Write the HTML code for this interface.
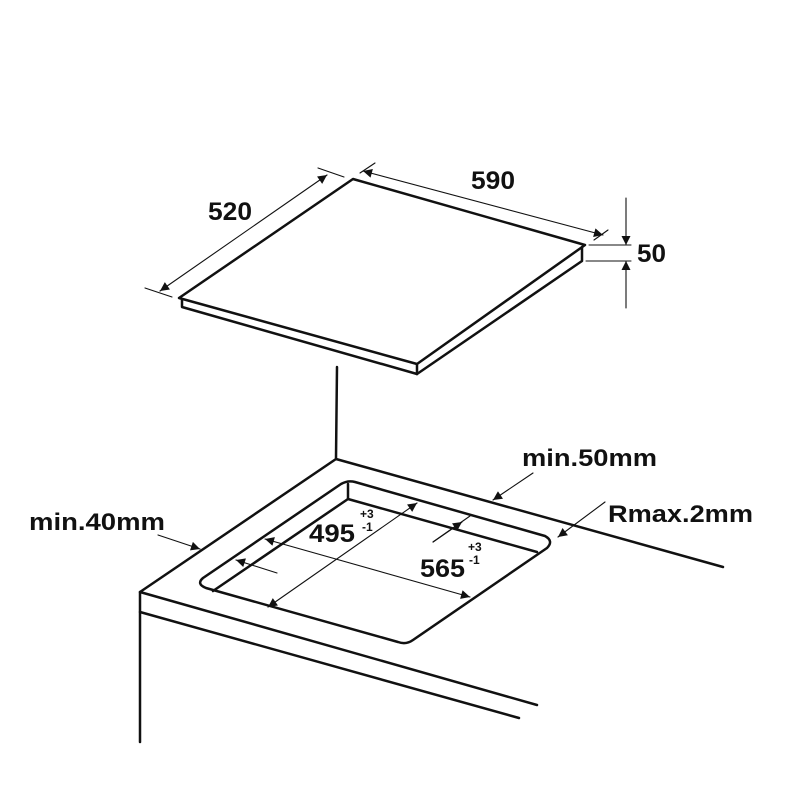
<!DOCTYPE html>
<html><head><meta charset="utf-8"><style>
html,body{margin:0;padding:0;background:#fff;}
svg{display:block;}
text{font-family:"Liberation Sans",sans-serif;font-weight:bold;fill:#111;}
</style></head><body>
<svg width="806" height="806" viewBox="0 0 806 806" xmlns="http://www.w3.org/2000/svg">
<defs>
<marker id="b" viewBox="0 0 10 10" refX="10" refY="5" markerWidth="17" markerHeight="9" markerUnits="userSpaceOnUse" orient="auto-start-reverse">
<path d="M0,0 L10,5 L0,10 z" fill="#111"/></marker>
</defs>
<g stroke="#111" fill="none" stroke-linejoin="round" stroke-linecap="round">
<g stroke-width="2.5">
<path d="M353,179 L585,245 L417,364 L179,298 Z"/>
<path d="M182,299 L182,307 L417,374 L417,364"/>
<path d="M417,374 L582,261 L582,247"/>
</g>
<g stroke-width="1.1">
<line x1="160" y1="291" x2="327" y2="175" marker-start="url(#b)" marker-end="url(#b)"/>
<line x1="145" y1="288" x2="172" y2="297"/>
<line x1="318" y1="168" x2="344" y2="177"/>
<line x1="363" y1="171" x2="603" y2="235" marker-start="url(#b)" marker-end="url(#b)"/>
<line x1="360" y1="173" x2="375" y2="163"/>
<line x1="594" y1="240" x2="608" y2="230"/>
<line x1="589" y1="245" x2="631" y2="245"/>
<line x1="586" y1="261" x2="631" y2="261"/>
<line x1="626" y1="198" x2="626" y2="245" marker-end="url(#b)"/>
<line x1="626" y1="308" x2="626" y2="261" marker-end="url(#b)"/>
</g>
<g stroke-width="2.5">
<line x1="337" y1="367" x2="336" y2="458"/>
<path d="M723,567 L336,459 L140,592 L537,705"/>
<line x1="140" y1="612" x2="519" y2="718"/>
<line x1="140" y1="592" x2="140" y2="742"/>
<path d="M355,482 L545,536 Q554,541 547,548 L413,640 Q406,645 398,642 L206,588 Q196,584 203,578 L341,484 Q348,480 355,482 Z"/>
<line x1="348" y1="484" x2="348" y2="499"/>
<line x1="348" y1="499" x2="213" y2="591"/>
<line x1="348" y1="499" x2="537" y2="552"/>
</g>
<g stroke-width="1.1">
<line x1="268" y1="607" x2="417" y2="503" marker-start="url(#b)" marker-end="url(#b)"/>
<line x1="265" y1="539" x2="470" y2="597" marker-start="url(#b)" marker-end="url(#b)"/>
<line x1="277" y1="573" x2="236" y2="560" marker-end="url(#b)"/>
<line x1="433" y1="542" x2="470" y2="516"/>
<line x1="433" y1="542" x2="462" y2="522" marker-end="url(#b)"/>
<line x1="533" y1="473" x2="493" y2="500" marker-end="url(#b)"/>
<line x1="605" y1="502" x2="558" y2="537" marker-end="url(#b)"/>
<line x1="158" y1="535" x2="200" y2="549" marker-end="url(#b)"/>
</g>
</g>
<text x="208" y="220" font-size="25" textLength="44" lengthAdjust="spacingAndGlyphs">520</text>
<text x="471" y="189" font-size="25" textLength="44" lengthAdjust="spacingAndGlyphs">590</text>
<text x="637" y="262" font-size="25" textLength="29" lengthAdjust="spacingAndGlyphs">50</text>
<text x="29" y="530" font-size="24" textLength="136" lengthAdjust="spacingAndGlyphs">min.40mm</text>
<text x="522" y="466" font-size="24" textLength="135" lengthAdjust="spacingAndGlyphs">min.50mm</text>
<text x="608" y="522" font-size="24" textLength="145" lengthAdjust="spacingAndGlyphs">Rmax.2mm</text>
<text x="309" y="542" font-size="25" textLength="46" lengthAdjust="spacingAndGlyphs">495</text>
<text x="360" y="518" font-size="12">+3</text>
<text x="362" y="531" font-size="12">-1</text>
<text x="420" y="577" font-size="25" textLength="45" lengthAdjust="spacingAndGlyphs">565</text>
<text x="468" y="551" font-size="12">+3</text>
<text x="469" y="564" font-size="12">-1</text>
</svg>
</body></html>
